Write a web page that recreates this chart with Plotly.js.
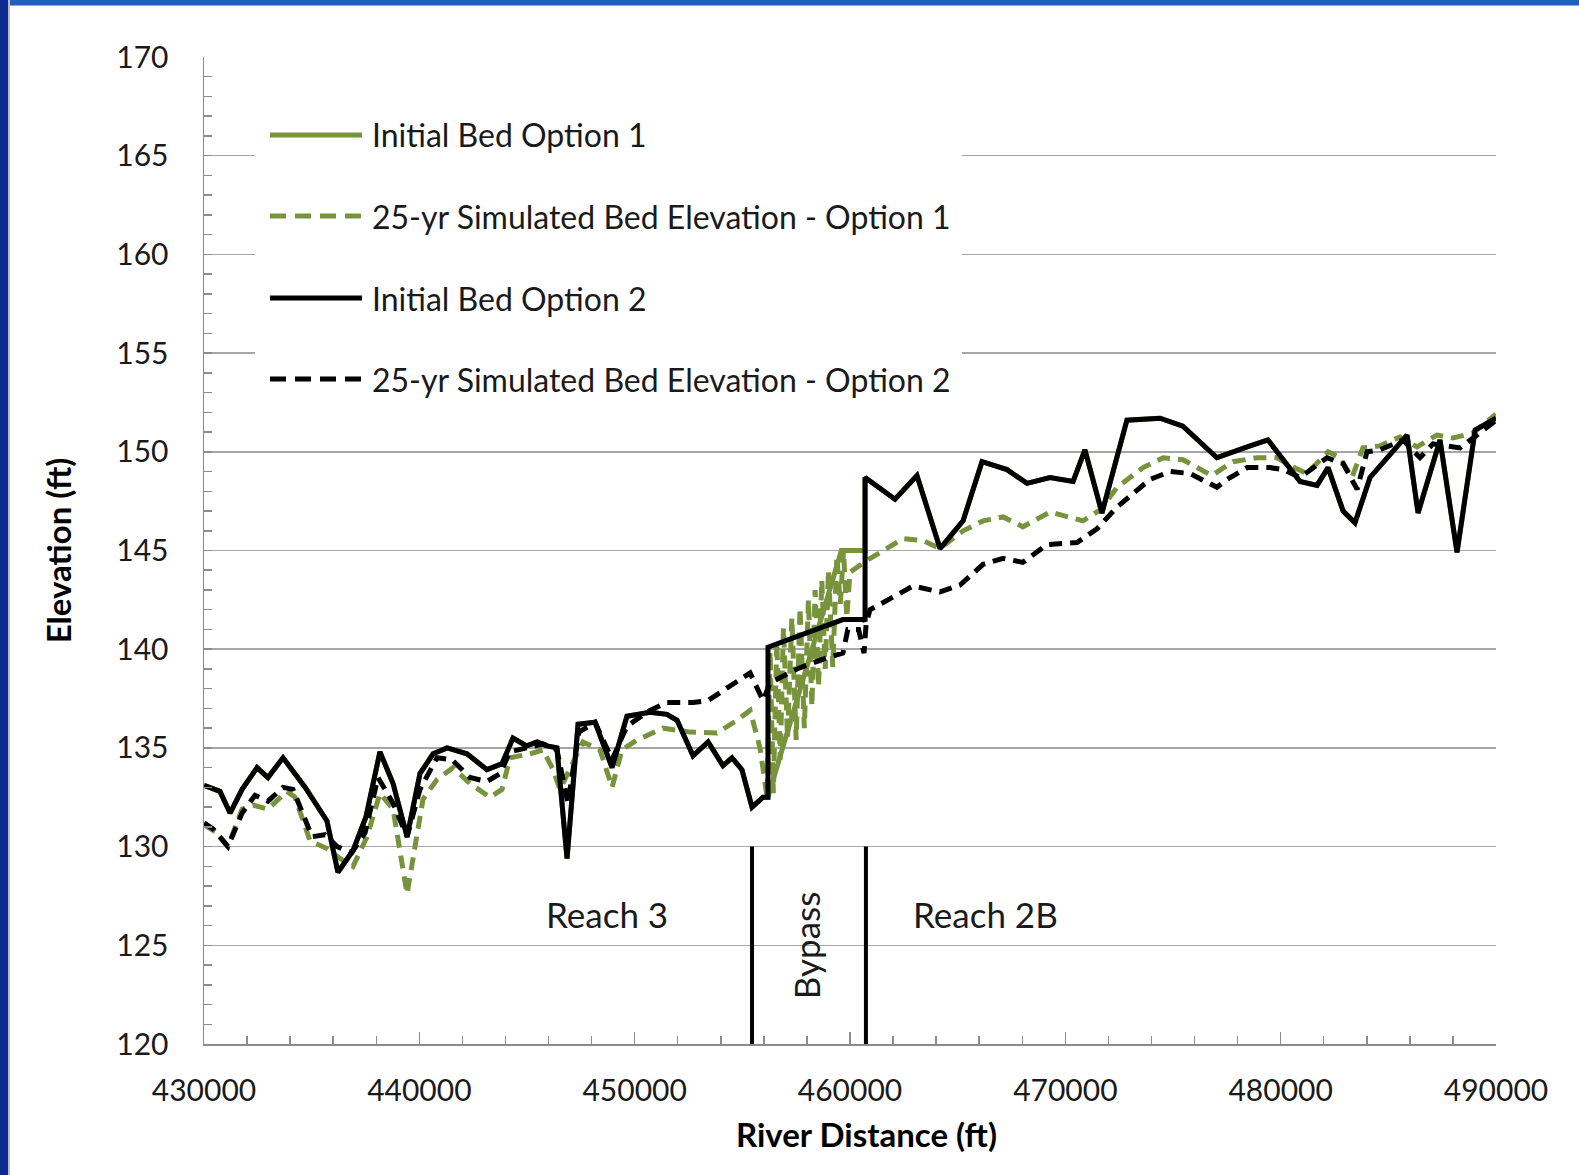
<!DOCTYPE html>
<html>
<head>
<meta charset="utf-8">
<script src="https://cdn.plot.ly/plotly-3.0.1.min.js"></script>
<style>
  html, body { margin: 0; padding: 0; background: #ffffff; }
  #chart { position: absolute; left: 0; top: 0; width: 1579px; height: 1175px; }
  .band-top { position: absolute; left: 0; top: 0; width: 1579px; height: 5px; background: #2160b9; border-bottom: 1px solid #9aa7bd; }
  .band-left { position: absolute; left: 0; top: 0; width: 8px; height: 1175px; background: #0d2b8e; border-right: 2px solid #b9bcc4; }
</style>
</head>
<body>
<div id="chart"></div>
<div class="band-top"></div>
<div class="band-left"></div>
<script>
// River distance (ft) and bed elevation (ft) for each profile
const distInitOpt1 = [430000,430740,431210,431770,432460,432970,433670,434700,435710,436220,436920,437520,438170,438780,439430,440030,440640,441290,442210,443140,443840,444350,444980,445470,445930,446390,446860,447370,448160,448950,449640,450710,451500,451970,452710,453410,454100,454520,454980,455450,455960,456190,459600,460700,460700,462090,463110,464180,465250,466130,467290,468220,469290,470360,470910,471700,472860,474400,475460,477040,478580,479410,480900,481690,482200,482900,483450,484150,485870,486380,487400,488190,489030,490000];
const elevInitOpt1 = [133.1,132.8,131.7,132.9,134.0,133.5,134.5,133.0,131.3,128.7,129.8,131.5,134.8,133.2,130.5,133.7,134.7,135.0,134.7,133.9,134.2,135.5,135.1,135.3,135.1,135.0,129.4,136.2,136.3,134.0,136.6,136.8,136.7,136.4,134.6,135.3,134.1,134.5,133.9,132.0,132.5,132.5,145.0,145.0,148.7,147.6,148.8,145.1,146.5,149.5,149.1,148.4,148.7,148.5,150.1,146.9,151.6,151.7,151.3,149.7,150.3,150.6,148.5,148.3,149.2,147.0,146.4,148.7,150.85,146.9,150.6,144.9,151.1,151.7];

const distSimOpt1 = [430000,430600,431110,431770,432280,432970,433850,434230,434920,435710,436320,436920,437570,438170,438780,439430,439800,440170,440820,441560,442350,443280,443840,444210,445140,445740,446210,446530,447600,448390,448950,449410,450110,451320,452570,453820,454750,455360,455820,456150,456290,456440,456600,456760,456910,457100,457300,457500,457680,457880,458070,458230,458380,458540,458690,458850,459000,459200,459390,459550,459700,459850,460000,460790,462470,463390,464180,465250,466180,467110,468030,469290,470820,471610,472400,473610,474540,475460,476800,477790,478900,479830,480430,481220,482200,482760,483310,483820,484610,485540,486330,487260,488000,488930,490000];
const elevSimOpt1 = [131.1,130.7,130.0,131.9,132.1,131.9,132.8,132.5,130.3,129.9,129.4,129.0,130.5,132.7,131.9,127.6,130.0,132.4,133.4,134.0,133.2,132.5,132.9,134.5,134.7,134.9,133.9,132.9,135.3,134.9,133.0,134.9,135.4,136.0,135.8,135.75,136.4,136.9,135.0,132.5,139.9,132.7,140.4,134.4,141.1,135.5,141.6,135.4,142.1,136.0,142.5,137.1,143.0,138.1,143.5,139.0,144.0,139.1,144.7,142.3,145.0,141.6,143.9,144.5,145.6,145.5,145.1,146.0,146.5,146.7,146.2,146.95,146.5,147.05,148.2,149.2,149.7,149.6,148.8,149.5,149.7,149.7,149.3,148.9,150.0,149.7,148.7,150.2,150.3,150.75,150.25,150.85,150.7,150.95,151.9];

const distInitOpt2 = [430000,430740,431210,431770,432460,432970,433670,434700,435710,436220,436920,437520,438170,438780,439430,440030,440640,441290,442210,443140,443840,444350,444980,445470,445930,446390,446860,447370,448160,448950,449640,450710,451500,451970,452710,453410,454100,454520,454980,455450,455960,456190,456190,459670,460650,460700,460700,462090,463110,464180,465250,466130,467290,468220,469290,470360,470910,471700,472860,474400,475460,477040,478580,479410,480900,481690,482200,482900,483450,484150,485870,486380,487400,488190,489030,490000];
const elevInitOpt2 = [133.1,132.8,131.7,132.9,134.0,133.5,134.5,133.0,131.3,128.7,129.8,131.5,134.8,133.2,130.5,133.7,134.7,135.0,134.7,133.9,134.2,135.5,135.1,135.3,135.1,135.0,129.4,136.2,136.3,134.0,136.6,136.8,136.7,136.4,134.6,135.3,134.1,134.5,133.9,132.0,132.5,132.5,140.1,141.5,141.5,141.4,148.7,147.6,148.8,145.1,146.5,149.5,149.1,148.4,148.7,148.5,150.1,146.9,151.6,151.7,151.3,149.7,150.3,150.6,148.5,148.3,149.2,147.0,146.4,148.7,150.85,146.9,150.6,144.9,151.1,151.7];

const distSimOpt2 = [430000,430420,431110,431770,432370,432970,433670,434130,435020,435620,436180,436870,437480,438080,438780,439430,440030,440820,441520,442350,443140,443750,444210,445000,445740,446390,446900,447410,448160,448950,449640,450710,451500,452710,453410,454520,455360,455960,456290,457540,458750,459670,459900,460400,460650,460750,460930,462930,464180,465110,466180,467110,468030,469150,470540,471470,472400,473930,474860,475790,477040,477510,478440,479500,480110,480900,482150,482900,483550,484010,484610,485680,486470,487070,488330,489120,490000];
const elevSimOpt2 = [131.2,130.9,130.0,131.7,132.6,132.3,133.0,132.9,130.5,130.6,130.0,129.7,130.7,133.5,132.2,130.5,132.9,134.5,134.4,133.5,133.3,133.7,134.8,135.0,135.2,134.9,132.2,135.8,136.3,134.4,136.1,136.9,137.3,137.3,137.4,138.2,138.8,137.4,138.3,139.0,139.5,139.8,141.0,141.0,139.8,141.3,142.0,143.2,142.9,143.25,144.3,144.6,144.4,145.3,145.4,146.1,147.2,148.6,149.0,148.9,148.2,148.6,149.2,149.2,149.1,148.7,149.7,149.4,148.1,150.0,150.1,150.6,149.7,150.4,150.2,150.85,151.6];

// Reach boundaries (ft) and labels
const reachBounds = [455450, 460740];
const reachLabels = ['Reach 3', 'Bypass', 'Reach 2B'];
const reachLabelX = [448700, 457950, 466300];
const reachLabelY = [126.6, 125.0, 126.6];

const seriesNames = [
  'Initial Bed Option 1',
  '25-yr Simulated Bed Elevation - Option 1',
  'Initial Bed Option 2',
  '25-yr Simulated Bed Elevation - Option 2'
];

const GREEN = '#77933c';
const BLACK = '#000000';
const DASH = '13px,8px';
const LEGEND_DASH = '16px,9px';
const LW = 5;
const FONT = 'Lato, "Open Sans", sans-serif';

const traces = [
  { x: distInitOpt1, y: elevInitOpt1, name: seriesNames[0], mode: 'lines', line: { color: GREEN, width: LW } },
  { x: distSimOpt1, y: elevSimOpt1, name: seriesNames[1], mode: 'lines', line: { color: GREEN, width: LW, dash: DASH } },
  { x: distInitOpt2, y: elevInitOpt2, name: seriesNames[2], mode: 'lines', line: { color: BLACK, width: LW } },
  { x: distSimOpt2, y: elevSimOpt2, name: seriesNames[3], mode: 'lines', line: { color: BLACK, width: LW, dash: DASH } }
];

// plot-area pixel geometry, used to place the legend box
const PL = 204, PR = 1496, PT = 57, PB = 1044;
const px = v => (v - PL) / (PR - PL);
const py = v => (PB - v) / (PB - PT);

const shapes = [];
const annotations = [];

// legend background hides the gridlines behind it
shapes.push({ type: 'rect', xref: 'paper', yref: 'paper', x0: px(255), x1: px(962), y0: py(420), y1: py(84),
  fillcolor: '#ffffff', line: { width: 0 }, layer: 'above' });

const legendRows = [135, 216, 298, 379];
const legendStyles = [
  { color: GREEN, dash: 'solid' }, { color: GREEN, dash: LEGEND_DASH },
  { color: BLACK, dash: 'solid' }, { color: BLACK, dash: LEGEND_DASH }
];
legendRows.forEach((row, i) => {
  shapes.push({ type: 'line', xref: 'paper', yref: 'paper', x0: px(270), x1: px(362), y0: py(row), y1: py(row),
    line: { color: legendStyles[i].color, width: LW, dash: legendStyles[i].dash }, layer: 'above' });
  annotations.push({ xref: 'paper', yref: 'paper', x: px(370), y: py(row), xanchor: 'left', yanchor: 'middle',
    text: seriesNames[i], showarrow: false, font: { family: FONT, size: 32, color: '#1a1a1a' } });
});

// reach boundary markers
reachBounds.forEach(b => {
  shapes.push({ type: 'line', xref: 'x', yref: 'y', x0: b, x1: b, y0: 120, y1: 130,
    line: { color: BLACK, width: 4 }, layer: 'above' });
});
reachLabels.forEach((t, i) => {
  annotations.push({ xref: 'x', yref: 'y', x: reachLabelX[i], y: reachLabelY[i], text: t, showarrow: false,
    textangle: t === 'Bypass' ? -90 : 0, xanchor: 'center', yanchor: 'middle',
    font: { family: FONT, size: 35, color: '#1a1a1a' } });
});

const axisGrey = '#8c8c8c';

const layout = {
  width: 1579, height: 1175, autosize: false,
  margin: { l: PL, r: 1579 - PR, t: PT, b: 1175 - PB, pad: 0 },
  paper_bgcolor: '#ffffff', plot_bgcolor: '#ffffff',
  showlegend: false,
  xaxis: {
    range: [430000, 490000], tick0: 430000, dtick: 10000, tickformat: 'd',
    ticks: 'inside', ticklen: 12, tickwidth: 1.5, tickcolor: axisGrey,
    showline: true, linecolor: axisGrey, linewidth: 1.5, showgrid: false, zeroline: false,
    minor: { ticks: 'inside', dtick: 2000, ticklen: 8, tickwidth: 1.5, tickcolor: axisGrey, showgrid: false },
    tickfont: { family: FONT, size: 30, color: '#1a1a1a' }, ticklabelstandoff: 19,
    // leading zero-width + en spaces nudge the title slightly right of centre
    title: { text: '\u200B\u2002\u2002River Distance (ft)', standoff: 18, font: { family: FONT, size: 33, weight: 700, color: '#000000' } }
  },
  yaxis: {
    range: [120, 170], tick0: 120, dtick: 5,
    ticks: 'inside', ticklen: 8, tickwidth: 1.5, tickcolor: axisGrey,
    showline: true, linecolor: axisGrey, linewidth: 1.5,
    showgrid: true, gridcolor: '#a6a6a6', gridwidth: 1.5, zeroline: false,
    minor: { ticks: 'inside', dtick: 1, ticklen: 8, tickwidth: 1.5, tickcolor: axisGrey, showgrid: false },
    tickfont: { family: FONT, size: 30, color: '#1a1a1a' }, ticklabelstandoff: 28,
    title: { text: 'Elevation (ft)', standoff: 34, font: { family: FONT, size: 33, weight: 700, color: '#000000' } }
  },
  shapes: shapes,
  annotations: annotations
};

Plotly.newPlot('chart', traces, layout, { displayModeBar: false, staticPlot: true });
</script>
</body>
</html>
